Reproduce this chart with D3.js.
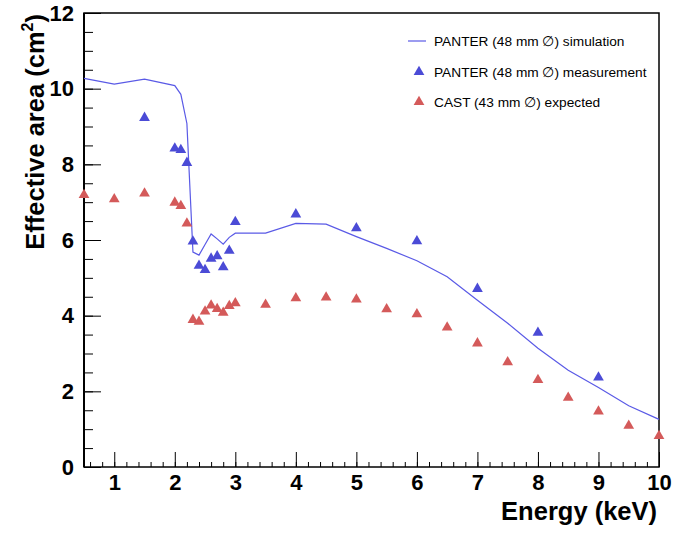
<!DOCTYPE html>
<html>
<head>
<meta charset="utf-8">
<script src="https://cdn.jsdelivr.net/npm/d3@7"></script>
<style>
  body { margin: 0; background: #fff; }
  text { font-family: "Liberation Sans", Arial, Helvetica, sans-serif; }
  .tick text { font-weight: bold; font-size: 22px; }
</style>
</head>
<body>
<svg width="675" height="533"></svg>
<script>
// simulated effective area, PANTER 48 mm
var simEnergy = [0.5, 1, 1.5, 2, 2.1, 2.2, 2.3, 2.4, 2.5, 2.6, 2.7, 2.8, 2.9, 3, 3.5, 4, 4.5, 5, 5.5, 6, 6.5, 7, 7.5, 8, 8.5, 9, 9.5, 10];
var simArea = [10.27, 10.12, 10.25, 10.08, 9.85, 9.08, 5.68, 5.60, 5.88, 6.16, 6.03, 5.89, 6.07, 6.18, 6.18, 6.44, 6.42, 6.09, 5.78, 5.45, 5.03, 4.41, 3.80, 3.14, 2.56, 2.10, 1.62, 1.26];

// PANTER measurement
var measEnergy = [1.5, 2, 2.1, 2.2, 2.3, 2.4, 2.5, 2.6, 2.7, 2.8, 2.9, 3, 4, 5, 6, 7, 8, 9];
var measArea = [9.23, 8.42, 8.38, 8.04, 5.96, 5.32, 5.21, 5.51, 5.57, 5.28, 5.72, 6.48, 6.68, 6.31, 5.97, 4.71, 3.55, 2.37];

// CAST expected
var castEnergy = [0.5, 1, 1.5, 2, 2.1, 2.2, 2.3, 2.4, 2.5, 2.6, 2.7, 2.8, 2.9, 3, 3.5, 4, 4.5, 5, 5.5, 6, 6.5, 7, 7.5, 8, 8.5, 9, 9.5, 10];
var castArea = [7.19, 7.08, 7.23, 6.99, 6.90, 6.44, 3.89, 3.84, 4.11, 4.27, 4.18, 4.08, 4.26, 4.33, 4.29, 4.46, 4.48, 4.43, 4.17, 4.04, 3.69, 3.27, 2.77, 2.30, 1.83, 1.47, 1.09, 0.82];

var xTicks = [1, 2, 3, 4, 5, 6, 7, 8, 9, 10];
var yTicks = [0, 2, 4, 6, 8, 10, 12];

var lineColor = "#5a5ae6", blue = "#4b4bd6", red = "#d45a5a";

var margin = { top: 13, right: 16, bottom: 66, left: 84 },
    width = 675 - margin.left - margin.right,
    height = 533 - margin.top - margin.bottom;

var x = d3.scaleLinear().domain([0.5, 10]).range([0, width]);
var y = d3.scaleLinear().domain([0, 12]).range([height, 0]);

var svg = d3.select("svg").append("g")
    .attr("transform", "translate(" + margin.left + "," + margin.top + ")");

// minor ticks first
svg.append("g").attr("transform", "translate(0," + height + ")")
  .call(d3.axisBottom(x).tickValues(d3.range(0.6, 10.01, 0.2)).tickSize(-5).tickFormat(""))
  .call(function (g) { g.select(".domain").remove(); });
svg.append("g")
  .call(d3.axisLeft(y).tickValues(d3.range(0.5, 12, 0.5)).tickSize(-9).tickFormat(""))
  .call(function (g) { g.select(".domain").remove(); });

// major ticks + labels
var xa = svg.append("g").attr("transform", "translate(0," + height + ")")
  .call(d3.axisBottom(x).tickValues(xTicks).tickSize(-15).tickFormat(d3.format("d")));
xa.selectAll(".tick text").attr("y", 7.5).attr("dy", "0.71em");
xa.select(".domain").remove();

var ya = svg.append("g")
  .call(d3.axisLeft(y).tickValues(yTicks).tickSize(-17).tickFormat(d3.format("d")));
ya.selectAll(".tick text").attr("x", -10);
ya.select(".domain").remove();

svg.selectAll(".tick line").attr("stroke", "#000");

// frame
svg.append("rect").attr("width", width).attr("height", height)
  .attr("fill", "none").attr("stroke", "#000").attr("stroke-width", 1.5);
svg.append("line").attr("y2", height).attr("stroke", "#000").attr("stroke-width", 2);

// simulation line
var simData = simEnergy.map(function (e, i) { return [e, simArea[i]]; });
svg.append("path").datum(simData)
  .attr("fill", "none").attr("stroke", lineColor).attr("stroke-width", 1.2)
  .attr("d", d3.line().x(function (d) { return x(d[0]); }).y(function (d) { return y(d[1]); }));

var tri = d3.symbol().type(d3.symbolTriangle).size(50);

svg.selectAll(".cast").data(castEnergy).enter().append("path")
  .attr("class", "cast")
  .attr("d", tri)
  .attr("fill", red)
  .attr("transform", function (d, i) { return "translate(" + x(d) + "," + y(castArea[i]) + ")"; });

svg.selectAll(".meas").data(measEnergy).enter().append("path")
  .attr("class", "meas")
  .attr("d", tri)
  .attr("fill", blue)
  .attr("transform", function (d, i) { return "translate(" + x(d) + "," + y(measArea[i]) + ")"; });

// axis titles
var root = d3.select("svg");
root.append("text")
  .attr("x", 657).attr("y", 520)
  .attr("text-anchor", "end")
  .attr("font-weight", "bold").attr("font-size", 25.5)
  .text("Energy (keV)");

var yt = root.append("text")
  .attr("transform", "translate(44,14) rotate(-90)")
  .attr("text-anchor", "end")
  .attr("font-weight", "bold").attr("font-size", 25.5);
yt.append("tspan").text("Effective area (cm");
yt.append("tspan").attr("font-size", 16).attr("dy", -11).text("2");
yt.append("tspan").attr("dy", 11).text(")");

// legend
var legend = root.append("g").attr("transform", "translate(408,0)");
legend.append("line").attr("x1", 0).attr("x2", 18).attr("y1", 41).attr("y2", 41)
  .attr("stroke", lineColor).attr("stroke-width", 1.2);
legend.append("path").attr("d", tri).attr("fill", blue).attr("transform", "translate(11,72)");
legend.append("path").attr("d", tri).attr("fill", red).attr("transform", "translate(11,102)");
var labels = ["PANTER (48 mm \u2205) simulation", "PANTER (48 mm \u2205) measurement", "CAST (43 mm \u2205) expected"];
legend.selectAll(".lt").data(labels).enter().append("text")
  .attr("x", 26).attr("y", function (d, i) { return 46 + i * 30.5; })
  .attr("font-size", 13.7).attr("fill", "#000")
  .text(function (d) { return d; });
</script>
</body>
</html>
